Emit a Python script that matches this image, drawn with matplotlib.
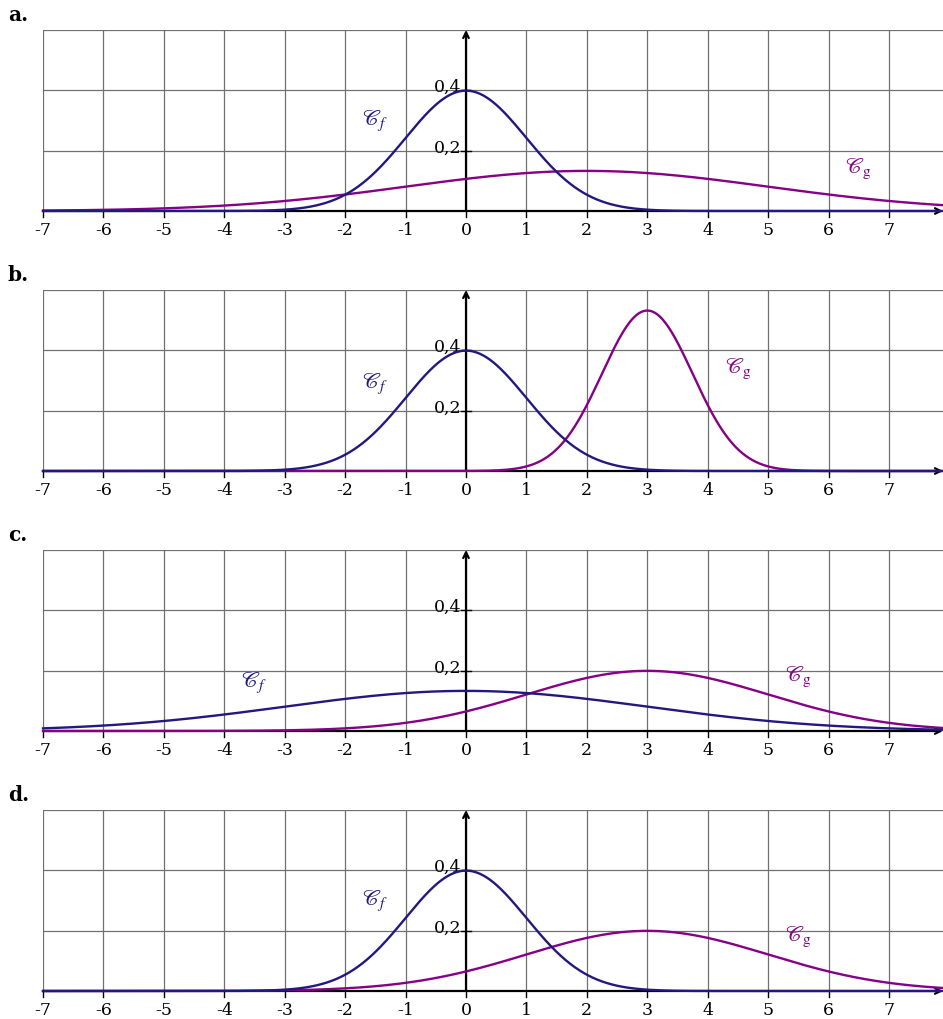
import matplotlib
matplotlib.use('agg')
import matplotlib.pyplot as plt
import numpy as np

# normal laws plotted in each panel: (mean, std) of f and g
panels = ['a.', 'b.', 'c.', 'd.']
mu_f = [0, 0, 0, 0]
sigma_f = [1, 1, 3, 1]
mu_g = [2, 3, 3, 3]
sigma_g = [3, 0.75, 2, 2]

# where the curve names sit (data coords)
lab_f = [(-1.5, 0.30), (-1.5, 0.29), (-3.5, 0.16), (-1.5, 0.30)]
lab_g = [(6.5, 0.14), (4.5, 0.34), (5.5, 0.18), (5.5, 0.18)]

xticks = list(range(-7, 8))
yticks = [0.2, 0.4]
ytick_labels = ['0,2', '0,4']

col_f = '#22187f'
col_g = '#850085'

plt.rcParams['font.family'] = ['DejaVu Serif']
plt.rcParams['mathtext.fontset'] = 'stix'

W, H = 943, 1019
fig = plt.figure(figsize=(W / 100, H / 100), dpi=100)

xmin, xmax = -7, -7 + 900 / 60.43
x = np.linspace(xmin, xmax, 800)


def gauss(x, m, s):
    return np.exp(-0.5 * ((x - m) / s) ** 2) / (s * np.sqrt(2 * np.pi))


for i in range(4):
    y0 = 211 + 260 * i
    ax = fig.add_axes([43 / W, 1 - y0 / H, 900 / W, 181 / H])
    ax.set_xlim(xmin, xmax)
    ax.set_ylim(0, 0.6)
    ax.axis('off')

    for k in range(-7, 8):
        ax.plot([k, k], [0, 0.6], color='#707070', lw=0.9, zorder=1)
    for v in [0.2, 0.4, 0.6]:
        ax.plot([xmin, xmax], [v, v], color='#707070', lw=0.9, zorder=1)

    # axes with arrows
    ax.annotate('', xy=(xmax, 0), xytext=(xmin, 0), annotation_clip=False,
                arrowprops=dict(arrowstyle='->', lw=1.6, color='black',
                                shrinkA=0, shrinkB=0, mutation_scale=10), zorder=2)
    ax.annotate('', xy=(0, 0.6), xytext=(0, 0), annotation_clip=False,
                arrowprops=dict(arrowstyle='->', lw=1.6, color='black',
                                shrinkA=0, shrinkB=0, mutation_scale=10), zorder=2)

    for k in xticks:
        ax.plot([k, k], [0, -0.02], color='black', lw=1.0, clip_on=False, zorder=2)
        ax.text(k, -0.035, str(k), ha='center', va='top', fontsize=12.5)
    for v, t in zip(yticks, ytick_labels):
        ax.plot([-0.08, 0.08], [v, v], color='black', lw=1.0, zorder=2)
        ax.text(-0.08, v - 0.006, t, ha='right', va='baseline', fontsize=12.5)

    ax.plot(x, gauss(x, mu_g[i], sigma_g[i]), color=col_g, lw=1.7, zorder=3,
            clip_on=False)
    ax.plot(x, gauss(x, mu_f[i], sigma_f[i]), color=col_f, lw=1.7, zorder=4,
            clip_on=False)

    ax.text(*lab_f[i], r'$\mathscr{C}_f$', color=col_f, fontsize=16,
            ha='center', va='center')
    ax.text(*lab_g[i], r'$\mathscr{C}_{\mathrm{g}}$', color=col_g, fontsize=16,
            ha='center', va='center')

    fig.text(8 / W, 1 - (y0 - 196) / H, panels[i], fontsize=14.5,
             fontweight='bold', ha='left', va='center')

fig.savefig('out.png', dpi=100)
